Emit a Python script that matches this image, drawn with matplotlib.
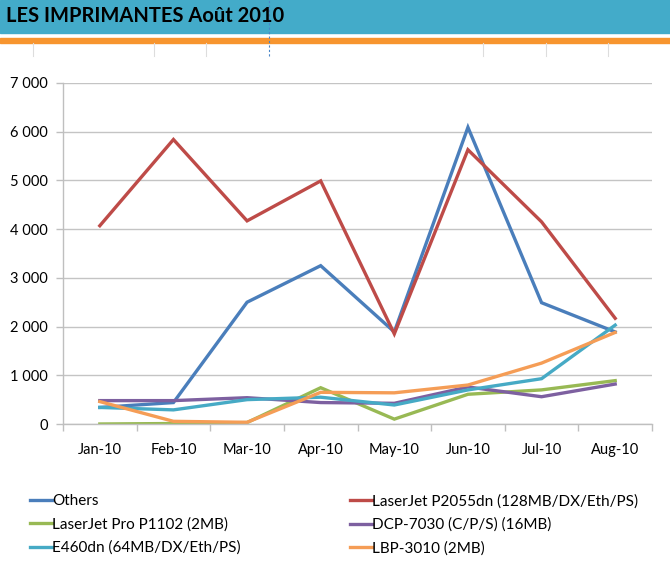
import numpy as np
import matplotlib
matplotlib.use('Agg')
import matplotlib.pyplot as plt
from matplotlib.lines import Line2D

months = ['Jan-10', 'Feb-10', 'Mar-10', 'Apr-10', 'May-10', 'Jun-10', 'Jul-10', 'Aug-10']
others = [340, 440, 2500, 3250, 1890, 6090, 2490, 1890]
p2055dn = [4070, 5840, 4170, 4990, 1850, 5630, 4150, 2170]
p1102 = [0, 10, 30, 745, 100, 610, 700, 890]
dcp7030 = [480, 480, 540, 440, 425, 760, 560, 820]
e460dn = [340, 290, 500, 550, 390, 700, 930, 2030]
lbp3010 = [460, 55, 35, 650, 640, 800, 1250, 1880]
yticks = [0, 1000, 2000, 3000, 4000, 5000, 6000, 7000]
ylabels = ['0', '1 000', '2 000', '3 000', '4 000', '5 000', '6 000', '7 000']

names = ['Others', 'LaserJet P2055dn (128MB/DX/Eth/PS)', 'LaserJet Pro P1102 (2MB)',
         'DCP-7030 (C/P/S) (16MB)', 'E460dn (64MB/DX/Eth/PS)', 'LBP-3010 (2MB)']
series = [others, p2055dn, p1102, dcp7030, e460dn, lbp3010]
colors = ['#4A7EBB', '#BE4B48', '#98B954', '#7D60A0', '#46AAC5', '#F59D56']

plt.rcParams['font.family'] = ['Lato', 'DejaVu Sans']

W, H = 670, 568
fig = plt.figure(figsize=(6.7, 5.68), dpi=100)

# spreadsheet header: teal band, orange band, cell borders, page break
fig.patches.append(plt.Rectangle((0, 1 - 33 / H), 1, 33 / H, transform=fig.transFigure,
                                 color='#43ABC9', zorder=0))
fig.patches.append(plt.Rectangle((0, 1 - 43 / H), 1, 5 / H, transform=fig.transFigure,
                                 color='#F7952F', zorder=0))
for cx in [33, 154, 206, 483, 546, 608]:
    fig.lines.append(Line2D([cx / W, cx / W], [1 - 56 / H, 1 - 43 / H], transform=fig.transFigure,
                            color='#dddddd', lw=0.8))
fig.lines.append(Line2D([269 / W, 269 / W], [1 - 56 / H, 1], transform=fig.transFigure,
                        color='#4A86C8', lw=0.8, ls=(0, (2, 2))))
fig.text(6 / W, 1 - 16 / H, 'LES IMPRIMANTES Août 2010', fontsize=14.5, fontweight='bold',
         va='center', ha='left', color='black')

ax = fig.add_axes([63 / W, 144 / H, 589 / W, 341 / H])
x = np.arange(len(months))
for s, c in zip(series, colors):
    ax.plot(x, s, color=c, lw=2.4, solid_joinstyle='miter')

ax.set_xlim(-0.5, 7.5)
ax.set_ylim(0, 7000)
ax.set_yticks(yticks)
ax.set_yticklabels(ylabels, fontsize=10.5)
ax.set_xticks(x)
ax.set_xticklabels(months, fontsize=10.5)
ax.set_xticks(np.arange(-0.5, 8.0, 1), minor=True)
ax.tick_params(axis='x', which='major', length=0, pad=14)
ax.tick_params(axis='x', which='minor', length=5, color='#bfbfbf', width=1)
ax.tick_params(axis='y', length=5, color='#bfbfbf', width=1, pad=6)
ax.grid(axis='y', color='#c4c4c4', lw=1)
ax.set_axisbelow(True)
for sp in ['top', 'right']:
    ax.spines[sp].set_visible(False)
for sp in ['left', 'bottom']:
    ax.spines[sp].set_color('#bfbfbf')
    ax.spines[sp].set_linewidth(1)

handles = [Line2D([], [], color=c, lw=2.4) for c in colors]
leg_kw = dict(loc='upper left', frameon=False, fontsize=11, handlelength=1.45,
              handletextpad=0.0, labelspacing=0.6, borderpad=0, borderaxespad=0)
fig.legend([handles[i] for i in (0, 2, 4)], [names[i] for i in (0, 2, 4)],
           bbox_to_anchor=(30 / W, 1 - 494 / H), **leg_kw)
fig.legend([handles[i] for i in (1, 3, 5)], [names[i] for i in (1, 3, 5)],
           bbox_to_anchor=(350 / W, 1 - 494 / H), **leg_kw)

fig.savefig('out.png', dpi=100)
